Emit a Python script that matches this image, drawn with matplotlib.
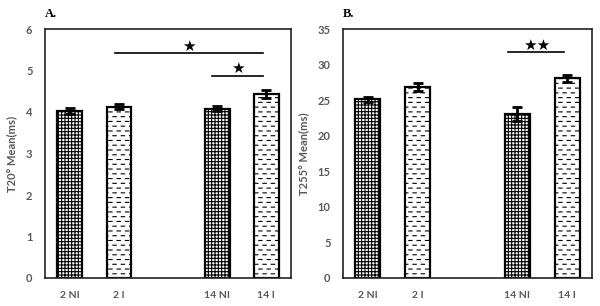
import warnings
import numpy as np
import matplotlib
matplotlib.use("Agg")
import matplotlib.pyplot as plt
from matplotlib import hatch as mhatch
from matplotlib.path import Path

warnings.filterwarnings("ignore")

# ---- data ----
categories = ["2 NI", "2 I", "14 NI", "14 I"]
positions = [0, 1, 3, 4]
t20_mean = [4.02, 4.13, 4.08, 4.43]
t20_err = [0.08, 0.06, 0.06, 0.09]
t255_mean = [25.1, 26.8, 23.0, 28.1]
t255_err = [0.3, 0.55, 1.0, 0.5]
# significance brackets: (x_start, x_end, y, label)
t20_sig = [(0.92, 3.94, 5.41, "★"), (2.9, 3.94, 4.87, "★")]
t255_sig = [(2.82, 3.94, 31.7, "★★")]


# ---- custom dashed hatch ----
class DashHatch(mhatch.HatchPatternBase):
    def __init__(self, hatch, density):
        n = hatch.count('_')
        self.num_rows = int(n * density * 3.5)
        self.num_dash = int(n * density * 2)
        self.num_vertices = self.num_rows * self.num_dash * 2 if n else 0

    def set_vertices_and_codes(self, vertices, codes):
        if self.num_vertices == 0:
            return
        p = 1.0 / self.num_dash
        k = 0
        for i in range(self.num_rows):
            y = (i + 0.5) / self.num_rows
            off = 0.0 if i % 2 == 0 else 0.5 * p
            for j in range(self.num_dash):
                x0 = j * p + off + 0.05 * p
                x1 = x0 + 0.4 * p
                vertices[k] = (x0, y)
                vertices[k + 1] = (x1, y)
                codes[k] = Path.MOVETO
                codes[k + 1] = Path.LINETO
                k += 2


mhatch._hatch_types.append(DashHatch)

plt.rcParams['hatch.linewidth'] = 0.8
plt.rcParams['hatch.color'] = 'black'

gray = '#595959'
hatches = ['+++++', '_', '+++++', '_']

fig = plt.figure(figsize=(6.0, 3.06), dpi=100)
W, H = 600, 306
axA = fig.add_axes([45 / W, 1 - 278 / H, 246 / W, 249 / H])
axB = fig.add_axes([343 / W, 1 - 278 / H, 249 / W, 249 / H])


def draw(ax, means, errs, sig, ylim, yticks, ylabel, title):
    bars = ax.bar(positions, means, width=0.5, color='white', edgecolor='black',
                  linewidth=1.6, zorder=2)
    for b, h in zip(bars, hatches):
        b.set_hatch(h)
    ax.errorbar(positions, means, yerr=errs, fmt='none', ecolor='black',
                elinewidth=2.0, capsize=3.5, capthick=2.0, zorder=3)
    for x0, x1, y, lab in sig:
        ax.plot([x0, x1], [y, y], color='black', lw=1.2, zorder=3)
        ax.text((x0 + x1) / 2, y, lab, ha='center', va='bottom',
                fontsize=11, color='black', family='DejaVu Sans')
    ax.set_xlim(-0.5, 4.5)
    ax.set_ylim(*ylim)
    ax.set_yticks(yticks)
    ax.set_xticks(positions)
    ax.set_xticklabels(categories)
    ax.tick_params(axis='x', length=0, pad=9, labelsize=7.5, colors=gray)
    ax.tick_params(axis='y', length=0, pad=9, labelsize=8, colors=gray)
    for lab in ax.get_xticklabels() + ax.get_yticklabels():
        lab.set_fontweight('bold')
        lab.set_family('Lato')
    ax.set_ylabel(ylabel, fontsize=8, color=gray, family='Lato',
                  fontweight='bold', labelpad=6)
    for s in ax.spines.values():
        s.set_linewidth(1.2)
        s.set_color('#222222')
    ax.text(0.0, 1.035, title, transform=ax.transAxes, fontsize=9,
            fontweight='bold', family='Liberation Serif', ha='left', va='bottom')


draw(axA, t20_mean, t20_err, t20_sig, (0, 6), range(0, 7), "T20° Mean(ms)", "A.")
draw(axB, t255_mean, t255_err, t255_sig, (0, 35), range(0, 36, 5), "T255° Mean(ms)", "B.")

fig.savefig("out.png", dpi=100)
